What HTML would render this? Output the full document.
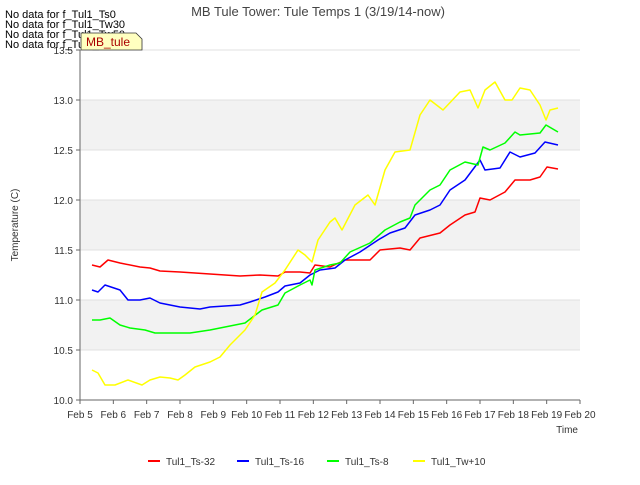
<!DOCTYPE html>
<html><head><meta charset="utf-8"><style>
body{margin:0;background:#fff;font-family:"Liberation Sans",sans-serif}
svg text{font-family:"Liberation Sans",sans-serif}
</style></head><body>
<svg id="chart" width="640" height="480" xmlns="http://www.w3.org/2000/svg">
<rect x="0" y="0" width="640" height="480" fill="#fff"/>
<g id="bands"></g>
<g id="grid"></g>
<g id="series"></g>
<g id="axes"></g>
<text x="318" y="16" text-anchor="middle" font-size="13" fill="#444">MB Tule Tower: Tule Temps 1 (3/19/14-now)</text>
<text transform="translate(18,225) rotate(-90)" text-anchor="middle" font-size="10" fill="#333">Temperature (C)</text>
<text x="578" y="433" text-anchor="end" font-size="10" fill="#333">Time</text>
<g font-size="11" fill="#000">
<text x="5" y="18">No data for f_Tul1_Ts0</text>
<text x="5" y="28">No data for f_Tul1_Tw30</text>
<text x="5" y="38">No data for f_Tul1_Tw50</text>
<text x="5" y="48">No data for f_Tul1_Tw100</text>
</g>
<g>
<path d="M81,33 L136,33 L142,39 L142,50 L81,50 Z" fill="#ffffc0" stroke="#333" stroke-width="0.8"/>
<text x="86" y="46" font-size="12" fill="#a00">MB_tule</text>
</g>
<g id="legend"></g>
</svg>
<script>
const yTicks=[10.0,10.5,11.0,11.5,12.0,12.5,13.0,13.5];
const xTickLabels=["Feb 5","Feb 6","Feb 7","Feb 8","Feb 9","Feb 10","Feb 11","Feb 12","Feb 13","Feb 14","Feb 15","Feb 16","Feb 17","Feb 18","Feb 19","Feb 20"];
const seriesNames=["Tul1_Ts-32","Tul1_Ts-16","Tul1_Ts-8","Tul1_Tw+10"];
const seriesColors=["#ff0000","#0000ff","#00ff00","#ffff00"];
const ts32Days=[0.36,0.6,0.84,1.2,1.8,2.1,2.4,3.0,3.9,4.8,5.4,5.94,6.15,6.6,6.9,7.05,7.5,7.95,8.7,9.0,9.6,9.9,10.2,10.8,11.1,11.55,11.85,12.0,12.3,12.75,13.05,13.5,13.8,14.01,14.34];
const ts32Vals=[11.35,11.33,11.4,11.37,11.33,11.32,11.29,11.28,11.26,11.24,11.25,11.24,11.28,11.28,11.27,11.35,11.33,11.4,11.4,11.5,11.52,11.5,11.62,11.67,11.75,11.85,11.88,12.02,12.0,12.08,12.2,12.2,12.23,12.33,12.31];
const ts16Days=[0.36,0.54,0.75,1.2,1.44,1.8,2.1,2.4,3.0,3.6,3.9,4.8,5.1,5.55,5.94,6.15,6.6,6.9,7.2,7.65,7.95,8.4,8.94,9.3,9.75,10.05,10.5,10.8,11.1,11.55,12.0,12.15,12.6,12.9,13.2,13.65,13.95,14.34];
const ts16Vals=[11.1,11.08,11.15,11.1,11.0,11.0,11.02,10.97,10.93,10.91,10.93,10.95,10.98,11.03,11.08,11.14,11.17,11.25,11.3,11.32,11.4,11.48,11.6,11.67,11.72,11.85,11.9,11.95,12.1,12.2,12.4,12.3,12.32,12.48,12.43,12.47,12.58,12.55];
const ts8Days=[0.36,0.6,0.9,1.2,1.5,1.95,2.25,2.7,3.3,3.9,4.5,4.95,5.46,5.94,6.15,6.6,6.9,6.96,7.05,7.5,7.8,8.1,8.7,9.15,9.6,9.9,10.05,10.5,10.8,11.1,11.55,11.94,12.09,12.3,12.75,13.05,13.2,13.8,13.98,14.34];
const ts8Vals=[10.8,10.8,10.82,10.75,10.72,10.7,10.67,10.67,10.67,10.7,10.74,10.77,10.9,10.95,11.07,11.15,11.2,11.15,11.3,11.35,11.37,11.48,11.57,11.7,11.78,11.82,11.95,12.1,12.15,12.3,12.38,12.35,12.53,12.5,12.57,12.68,12.65,12.67,12.75,12.68];
const tw10Days=[0.36,0.54,0.75,1.05,1.44,1.86,2.1,2.4,2.7,2.94,3.15,3.45,3.9,4.2,4.5,4.95,5.25,5.46,5.85,6.15,6.54,6.75,6.96,7.14,7.5,7.65,7.86,8.25,8.64,8.85,9.15,9.45,9.9,10.2,10.5,10.89,11.4,11.7,11.94,12.15,12.45,12.75,12.96,13.2,13.5,13.8,13.98,14.1,14.34];
const tw10Vals=[10.3,10.27,10.15,10.15,10.2,10.15,10.2,10.23,10.22,10.2,10.25,10.33,10.38,10.43,10.55,10.7,10.85,11.08,11.17,11.3,11.5,11.45,11.38,11.6,11.78,11.82,11.7,11.95,12.05,11.95,12.3,12.48,12.5,12.85,13.0,12.9,13.08,13.1,12.92,13.1,13.18,13.0,13.0,13.12,13.1,12.95,12.8,12.9,12.92];
const allDays=[ts32Days,ts16Days,ts8Days,tw10Days];
const allVals=[ts32Vals,ts16Vals,ts8Vals,tw10Vals];

const NS="http://www.w3.org/2000/svg";
const X0=80,X1=580,Y0=400,Y1=50,D0=0,D1=15,V0=10,V1=13.5;
const xs=d=>X0+(d-D0)/(D1-D0)*(X1-X0);
const ys=v=>Y0-(v-V0)/(V1-V0)*(Y0-Y1);
function mk(tag,attrs,parent){const e=document.createElementNS(NS,tag);for(const k in attrs)e.setAttribute(k,attrs[k]);parent.appendChild(e);return e;}
const bands=document.getElementById('bands'),grid=document.getElementById('grid'),axes=document.getElementById('axes'),series=document.getElementById('series'),legend=document.getElementById('legend');
for(let i=0;i<yTicks.length-1;i++){
  if(i%2===1){const r=mk('rect',{x:X0,y:ys(yTicks[i+1]),width:X1-X0,height:ys(yTicks[i])-ys(yTicks[i+1]),fill:'#f2f2f2'},bands);
  
  }
}
yTicks.forEach(v=>{
  const l=mk('line',{x1:X0,x2:X1,y1:ys(v),y2:ys(v),stroke:'#e0e0e0','stroke-width':1},grid);
  
  
  const t=mk('line',{x1:X0-4,x2:X0,y1:ys(v),y2:ys(v),stroke:'#666'},axes);
  
  
  const tx=mk('text',{x:X0-7,y:ys(v)+4,'text-anchor':'end','font-size':10,fill:'#333'},axes);
  tx.textContent=v.toFixed(1);
  
  
});
xTickLabels.forEach((s,i)=>{
  const t=mk('line',{x1:xs(i),x2:xs(i),y1:Y0,y2:Y0+4,stroke:'#666'},axes);
  
  
  const tx=mk('text',{x:xs(i),y:Y0+18,'text-anchor':'middle','font-size':10,fill:'#333'},axes);
  tx.textContent=s;
  
  
});
const ax=mk('line',{x1:X0,x2:X0,y1:Y1,y2:Y0,stroke:'#666'},axes);


const bx=mk('line',{x1:X0,x2:X1,y1:Y0,y2:Y0,stroke:'#666'},axes);


allDays.forEach((days,k)=>{
  const pts=days.map((d,i)=>xs(d).toFixed(1)+','+ys(allVals[k][i]).toFixed(1)).join(' ');
  const p=mk('polyline',{points:pts,fill:'none',stroke:seriesColors[k],'stroke-width':1.5,'stroke-linejoin':'round'},series);
  
  
});
const legX=[148,237,327,413];
seriesNames.forEach((n,k)=>{
  const g=mk('g',{},legend);
  
  
  mk('line',{x1:legX[k],x2:legX[k]+12,y1:461,y2:461,stroke:seriesColors[k],'stroke-width':2},g);
  const t=mk('text',{x:legX[k]+18,y:465,'font-size':10,fill:'#333'},g);
  t.textContent=n;
});
</script>
</body></html>
